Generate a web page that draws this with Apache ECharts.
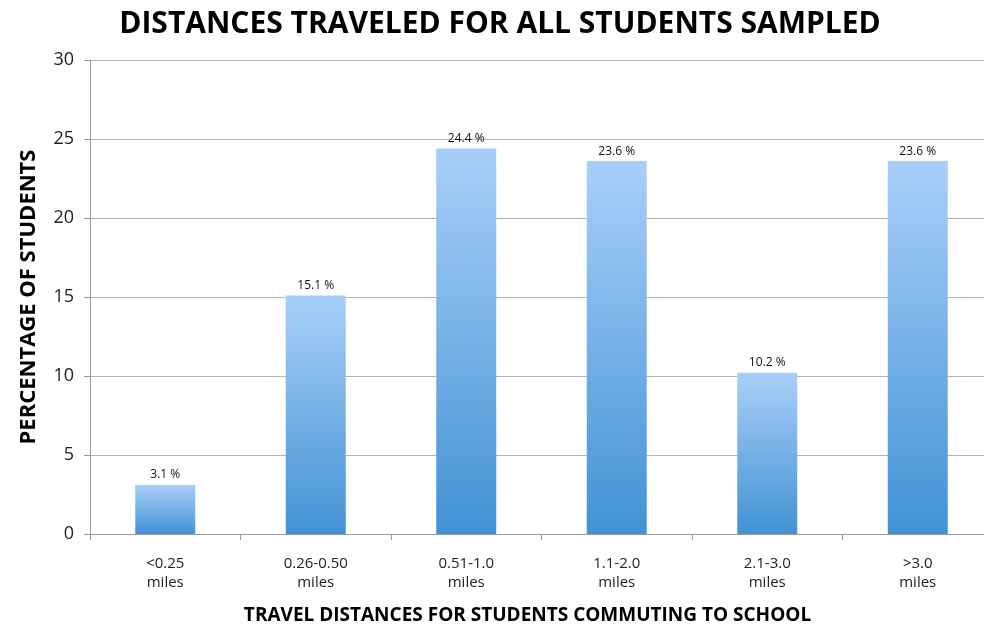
<!DOCTYPE html>
<html><head><meta charset="utf-8">
<script src="https://cdn.jsdelivr.net/npm/echarts@6/dist/echarts.min.js"></script>
<style>html,body{margin:0;padding:0;background:#fff}#c{width:984px;height:630px}</style>
</head><body><div id="c"></div>
<script>
const categories = ['<0.25\nmiles', '0.26-0.50\nmiles', '0.51-1.0\nmiles', '1.1-2.0\nmiles', '2.1-3.0\nmiles', '>3.0\nmiles'];
const values = [3.1, 15.1, 24.4, 23.6, 10.2, 23.6];
const yTicks = [0, 5, 10, 15, 20, 25, 30];

const chart = echarts.init(document.getElementById('c'));
const F = '"Open Sans", "Liberation Sans", sans-serif';
chart.setOption({
  animation: false,
  title: {
    text: 'DISTANCES TRAVELED FOR ALL STUDENTS SAMPLED',
    left: 495, top: 4, textAlign: 'center',
    textStyle: { fontFamily: F, fontSize: 30, fontWeight: 'bold', color: '#000' }
  },
  grid: { left: 90, right: -9, top: 60, bottom: 96, outerBoundsMode: 'none', containLabel: false },
  xAxis: {
    type: 'category', data: categories,
    name: 'TRAVEL DISTANCES FOR STUDENTS COMMUTING TO SCHOOL',
    nameLocation: 'middle', nameGap: 72,
    nameTextStyle: { fontFamily: F, fontSize: 19, fontWeight: 'bold', color: '#000', padding: [0, 28, 0, 0] },
    axisLine: { lineStyle: { color: '#9a9a9a', width: 1 } },
    axisTick: { show: true, length: 6, lineStyle: { color: '#9a9a9a' } },
    axisLabel: { fontFamily: F, fontSize: 15, color: '#222', margin: 20, lineHeight: 19 }
  },
  yAxis: {
    type: 'value', min: 0, max: 30, interval: 5,
    name: 'PERCENTAGE OF STUDENTS', nameLocation: 'middle', nameGap: 50, nameRotate: 90,
    nameTextStyle: { fontFamily: F, fontSize: 22, fontWeight: 'bold', color: '#000' },
    axisLine: { show: true, lineStyle: { color: '#9a9a9a' } },
    axisTick: { show: true, length: 6, lineStyle: { color: '#9a9a9a' } },
    splitLine: { lineStyle: { color: '#b5b5b5' } },
    axisLabel: {
      fontFamily: F, fontSize: 18, color: '#222', margin: 16,
      formatter: v => yTicks.includes(v) ? String(v) : ''
    }
  },
  series: [{
    type: 'bar', data: values, barWidth: 60,
    itemStyle: {
      color: new echarts.graphic.LinearGradient(0, 0, 0, 1, [
        { offset: 0, color: '#a9cff9' },
        { offset: 1, color: '#4292d4' }
      ])
    },
    label: {
      show: true, position: 'top', distance: 4,
      fontFamily: F, fontSize: 12, color: '#111',
      formatter: p => p.value.toFixed(1) + ' %'
    }
  }]
});
</script></body></html>
